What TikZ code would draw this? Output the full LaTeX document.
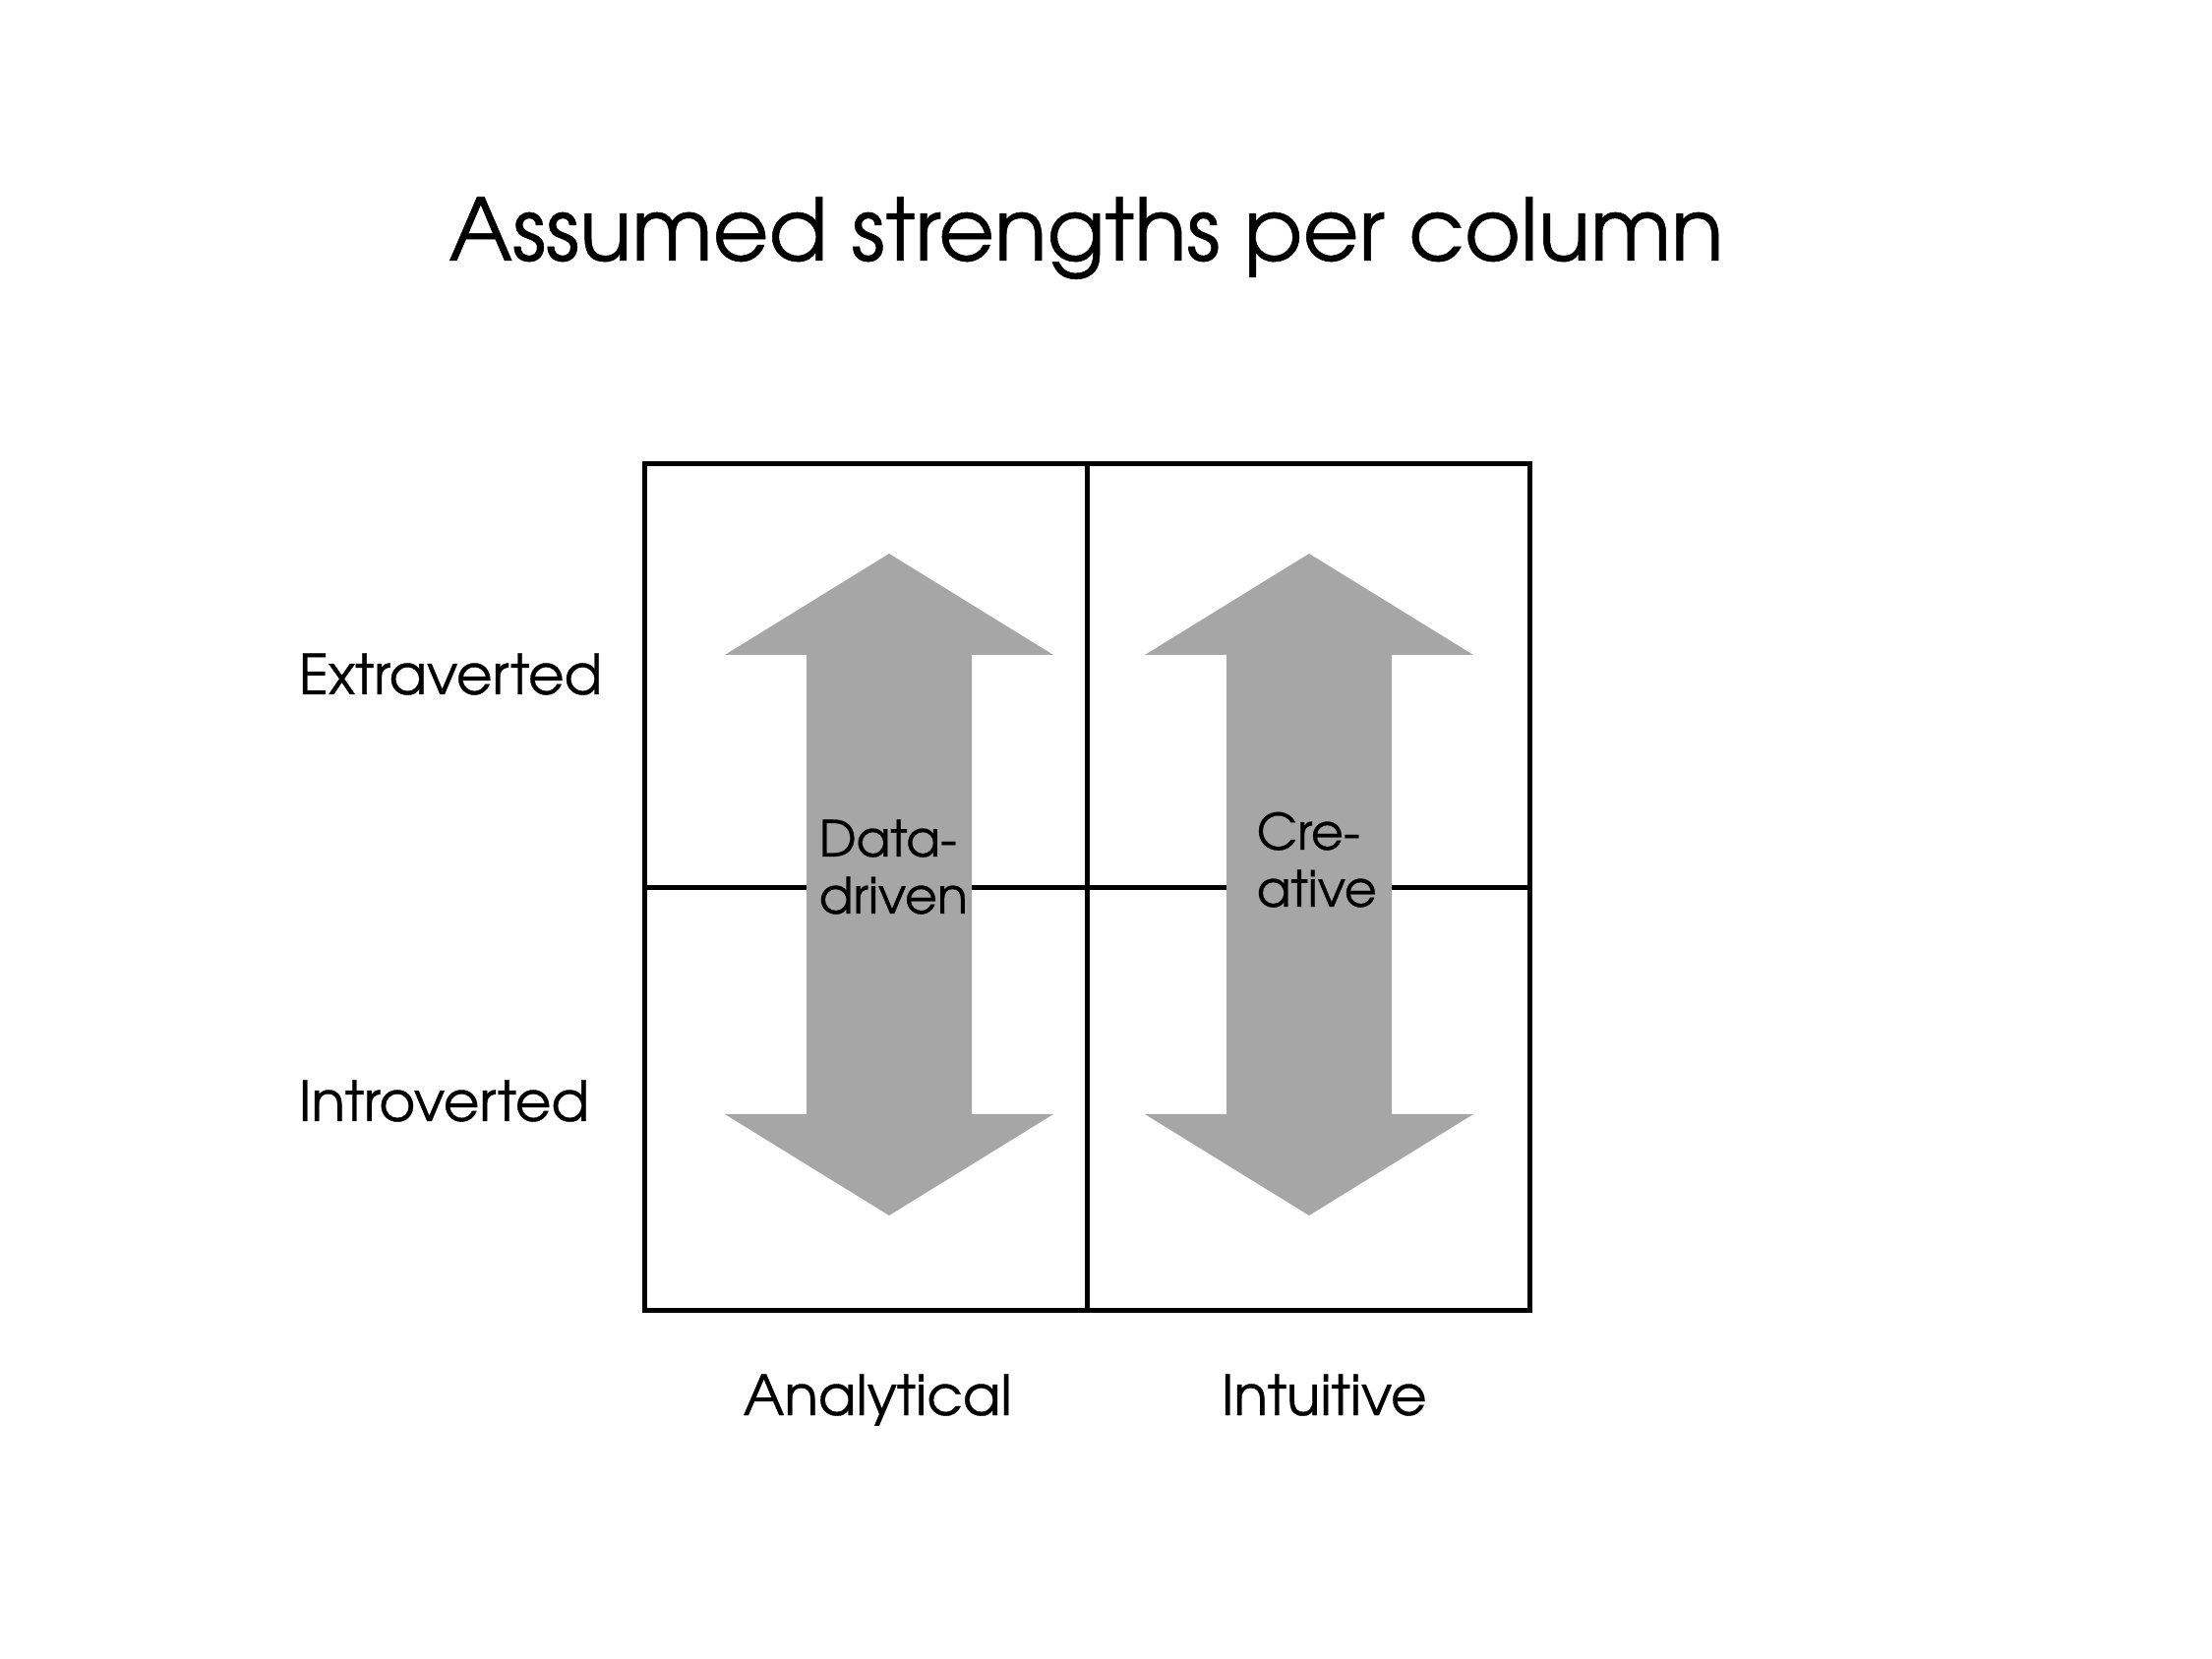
\documentclass[tikz,border=0pt]{standalone}
\usepackage{fontspec}
\setmainfont{TeX Gyre Adventor}[FakeBold=0.6]
\definecolor{arrowgray}{RGB}{166,166,166}
\begin{document}
\begin{tikzpicture}[x=0.25pt,y=-0.25pt,
  gridline/.style={line width=1.25pt,draw=black},
  dblarrow/.style={fill=arrowgray,draw=none},
  titlestyle/.style={font=\fontsize{21.9}{26}\selectfont, inner sep=0pt, anchor=base},
  lab/.style={font=\fontsize{14.1}{16}\selectfont, inner sep=0pt, anchor=base west},
  inlab/.style={font=\fontsize{12.7}{14.5}\selectfont, align=left, inner sep=0pt, anchor=base west}]
\useasboundingbox[fill=white] (0,0) rectangle (2249,1687);
% grid
\draw[gridline] (655.5,472) rectangle (1555.5,1333);
\draw[gridline] (1105,472) -- (1105,1333);
\draw[gridline] (655.5,902.5) -- (1555.5,902.5);
% double arrows
\foreach \cx in {904,1331}{
  \fill[dblarrow, shift={(\cx,0)}] (0,563) -- (167,666) -- (84,666) -- (84,1133) -- (167,1133)
     -- (0,1236) -- (-167,1133) -- (-84,1133) -- (-84,666) -- (-167,666) -- cycle;
}
% texts
\node[titlestyle] (title) at (1104.5,265) {Assumed strengths per column};
\node[lab] (ext) at (303,706) {Extraverted};
\node[lab] (intro) at (303,1140) {Introverted};
\node[lab] (ana) at (755,1439) {Analytical};
\node[lab] (intu) at (1241,1439) {Intuitive};
\node[inlab] (dd) at (832,929) {Data-\\driven};
\node[inlab] (cr) at (1277,922) {Cre-\\ative};
\end{tikzpicture}
\end{document}
